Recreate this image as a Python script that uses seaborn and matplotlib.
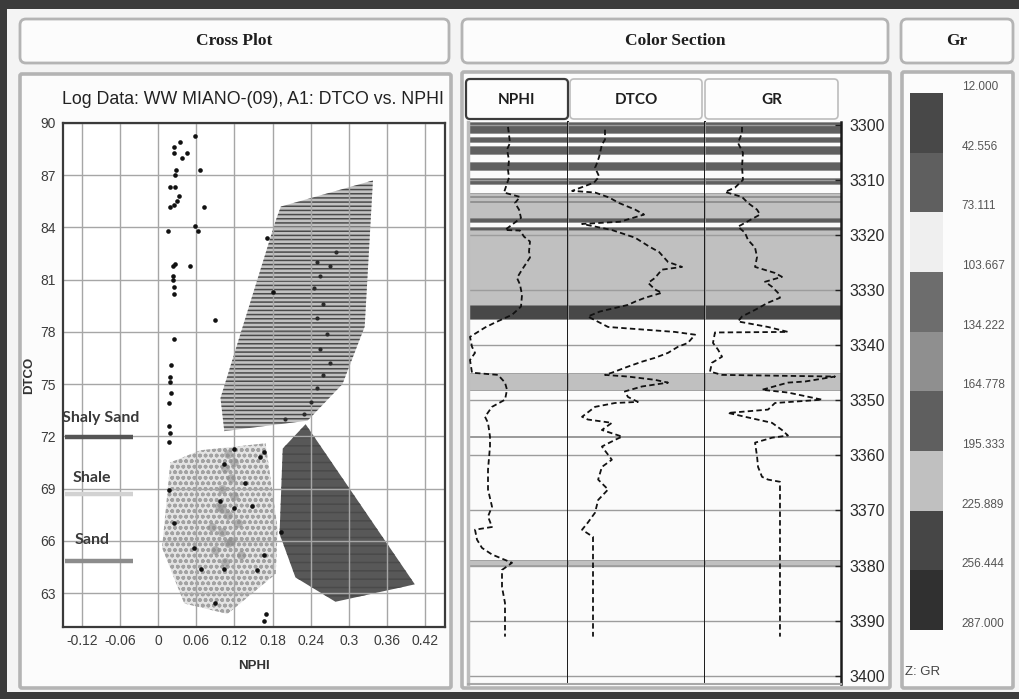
import numpy as np
import matplotlib
matplotlib.use("Agg")
import matplotlib.pyplot as plt
import matplotlib.font_manager as fm
from matplotlib.patches import FancyBboxPatch, Rectangle, Polygon
import seaborn as sns

# ---------------- cross plot data (NPHI vs DTCO) ----------------
pt_nphi = [0.035, 0.058, 0.025, 0.025, 0.038, 0.046, 0.028, 0.065, 0.019, 0.026,
           0.033, 0.019, 0.025, 0.072, 0.016, 0.058, 0.062, 0.023, 0.027, 0.050,
           0.023, 0.023, 0.025, 0.090, 0.025, 0.020, 0.018, 0.019, 0.017, 0.172,
           0.180, 0.017, 0.017, 0.120, 0.167, 0.017, 0.025, 0.057, 0.104, 0.068,
           0.167, 0.156, 0.090, 0.167, 0.169, 0.120, 0.148, 0.137, 0.104, 0.193,
           0.097, 0.160, 0.020, 0.018, 0.024, 0.026, 0.030]
pt_dtco = [88.9, 89.25, 88.6, 88.3, 88.0, 88.3, 87.3, 87.3, 86.3, 86.3,
           85.8, 85.2, 85.3, 85.2, 83.8, 84.1, 83.8, 81.8, 81.9, 81.8,
           81.2, 81.0, 80.2, 78.7, 77.6, 76.1, 75.4, 75.1, 73.9, 83.4,
           80.3, 72.6, 71.7, 71.3, 71.1, 68.9, 67.0, 65.6, 64.4, 64.4,
           65.2, 64.3, 62.4, 61.4, 61.8, 67.9, 68.0, 69.3, 70.4, 66.5,
           68.3, 70.8, 74.5, 72.2, 80.6, 87.0, 85.5]

# denser cloud inside the shale zone
cloud_nphi = [0.110, 0.105, 0.115, 0.100, 0.120, 0.095, 0.110, 0.125, 0.100, 0.115,
              0.090, 0.130, 0.105, 0.085, 0.120, 0.100, 0.110]
cloud_dtco = [71.0, 70.2, 69.6, 69.0, 68.6, 68.0, 67.5, 67.0, 66.5, 66.0,
              65.5, 65.2, 64.8, 66.8, 70.5, 67.8, 65.9]

# trend of points running through the sand zone
trend_nphi = [0.250, 0.255, 0.245, 0.260, 0.250, 0.265, 0.255, 0.270, 0.260, 0.250,
              0.240, 0.230, 0.200, 0.270, 0.280]
trend_dtco = [82.0, 81.2, 80.5, 79.6, 78.8, 77.9, 77.0, 76.2, 75.5, 74.8,
              74.0, 73.3, 73.0, 81.8, 82.6]

# lithology zones (polygon vertices)
sand_nphi = [0.338, 0.325, 0.290, 0.235, 0.104, 0.098, 0.185, 0.193]
sand_dtco = [86.7, 78.3, 75.0, 72.9, 72.3, 74.2, 84.4, 85.2]
shale_nphi = [0.019, 0.066, 0.169, 0.188, 0.185, 0.109, 0.041, 0.006]
shale_dtco = [70.5, 71.2, 71.6, 66.7, 64.1, 61.8, 62.4, 65.6]
shsand_nphi = [0.232, 0.404, 0.279, 0.216, 0.191, 0.196]
shsand_dtco = [72.7, 63.5, 62.5, 63.9, 66.4, 71.3]

xp_xticks = [-0.12, -0.06, 0, 0.06, 0.12, 0.18, 0.24, 0.30, 0.36, 0.42]
xp_xlabels = ["-0.12", "-0.06", "0", "0.06", "0.12", "0.18", "0.24", "0.3", "0.36", "0.42"]
xp_yticks = [63, 66, 69, 72, 75, 78, 81, 84, 87, 90]

# ---------------- well logs (depth in m) ----------------
nphi_depth = [3300.4, 3301.8, 3303.3, 3304.5, 3306.4, 3308.2, 3309.6, 3312.3, 3313.1, 3314.2,
              3315.4, 3316.9, 3319.1, 3319.2, 3320.3, 3321.2, 3323.0, 3324.1, 3326.3, 3327.8,
              3329.0, 3330.9, 3333.0, 3334.5, 3335.9, 3336.8, 3338.5, 3340.3, 3341.4, 3342.7,
              3345.0, 3345.4, 3346.8, 3348.1, 3349.9, 3351.2, 3353.0, 3354.1, 3356.6, 3358.4,
              3362.6, 3366.2, 3369.3, 3371.1, 3373.0, 3373.5, 3375.3, 3376.8, 3378.0, 3379.5,
              3380.8, 3383.9, 3386.8, 3390.4, 3392.9]
nphi_log = [0.090, 0.096, 0.102, 0.084, 0.096, 0.090, 0.096, 0.066, 0.162, 0.132,
            0.156, 0.168, 0.072, 0.162, 0.186, 0.222, 0.216, 0.222, 0.174, 0.144,
            0.162, 0.174, 0.168, 0.114, 0.012, -0.048, -0.138, -0.126, -0.108, -0.138,
            -0.126, 0.030, 0.072, 0.084, 0.072, -0.006, -0.048, -0.030, -0.018, -0.018,
            -0.030, -0.030, -0.006, -0.030, -0.006, -0.108, -0.096, -0.066, -0.006, 0.114,
            0.054, 0.054, 0.072, 0.072, 0.072]

dtco_depth = [3300.9, 3302.7, 3303.6, 3305.8, 3306.9, 3307.8, 3309.4, 3310.5, 3312.0, 3312.3,
              3313.2, 3314.2, 3315.4, 3316.3, 3317.6, 3318.0, 3319.1, 3320.5, 3322.1, 3323.1,
              3324.9, 3325.8, 3326.3, 3327.8, 3328.7, 3329.9, 3330.5, 3331.4, 3332.1, 3332.7,
              3333.9, 3334.8, 3336.7, 3337.6, 3338.1, 3339.6, 3340.3, 3341.4, 3342.3, 3343.0,
              3343.9, 3345.0, 3345.4, 3345.7, 3346.3, 3346.8, 3347.5, 3348.4, 3349.4, 3350.3,
              3350.5, 3351.2, 3353.0, 3353.5, 3354.1, 3355.4, 3356.6, 3357.2, 3358.4, 3360.8,
              3362.1, 3364.4, 3366.2, 3368.1, 3370.4, 3372.2, 3373.5, 3374.8, 3392.9]
dtco_log = [65.8, 65.8, 64.9, 64.1, 63.5, 62.9, 64.1, 62.6, 56.2, 62.9,
            67.0, 69.9, 74.6, 77.2, 70.2, 59.1, 67.8, 74.6, 78.7, 81.6,
            84.2, 88.3, 82.4, 80.4, 78.4, 80.4, 82.4, 77.5, 74.6, 72.5,
            64.3, 60.8, 66.7, 86.2, 92.1, 90.0, 87.1, 84.2, 80.4, 76.6,
            72.5, 67.8, 65.8, 72.5, 80.4, 84.2, 76.6, 71.6, 72.5, 75.4,
            68.7, 62.9, 59.1, 60.8, 67.8, 64.9, 70.8, 68.7, 64.9, 67.8,
            64.9, 63.8, 66.7, 63.8, 62.9, 60.8, 59.1, 62.3, 62.3]

gr_depth = [3300.4, 3301.5, 3303.3, 3305.1, 3307.6, 3310.0, 3311.4, 3312.2, 3313.1, 3314.2,
            3315.4, 3316.3, 3318.5, 3319.6, 3320.9, 3322.3, 3324.0, 3325.8, 3326.9, 3327.6,
            3328.5, 3329.4, 3330.5, 3331.4, 3332.3, 3333.6, 3334.8, 3335.7, 3336.7, 3337.6,
            3337.7, 3339.6, 3340.8, 3342.1, 3343.2, 3344.8, 3345.4, 3345.7, 3346.6, 3346.8,
            3348.1, 3348.6, 3349.9, 3350.5, 3351.7, 3352.3, 3353.0, 3354.1, 3355.4, 3356.4,
            3356.8, 3357.7, 3360.2, 3362.1, 3363.9, 3364.4, 3364.8, 3392.9]
gr_log = [40.8, 40.8, 36.4, 41.9, 40.8, 41.9, 33.1, 22.1, 40.8, 47.4,
          57.4, 60.7, 36.4, 44.1, 47.4, 55.2, 57.4, 55.2, 77.2, 84.9,
          66.2, 73.9, 80.5, 82.7, 69.5, 55.2, 40.8, 36.4, 69.5, 91.5,
          11.0, 8.8, 14.3, 18.8, 7.7, 5.5, 18.8, 143.4, 110.3, 91.5,
          62.9, 91.5, 129.1, 77.2, 69.5, 25.4, 44.1, 73.9, 84.9, 91.5,
          73.9, 55.2, 57.4, 58.5, 62.9, 69.5, 82.7, 82.7]

# GR classes used for the colour section
gr_bounds = [12.000, 42.556, 73.111, 103.667, 134.222, 164.778, 195.333, 225.889, 256.444, 287.000]
gr_colors = ["#484848", "#5f5f5f", "#efefef", "#6d6d6d", "#8f8f8f",
             "#5f5f5f", "#c0c0c0", "#464646", "#303030"]

band_top = [3299.5, 3302.2, 3303.8, 3306.7, 3309.6, 3312.3, 3313.0, 3313.9, 3316.9, 3318.5,
            3319.1, 3332.7, 3345.0, 3356.5, 3379.0]
band_base = [3301.5, 3303.1, 3305.3, 3308.2, 3310.7, 3316.9, 3313.2, 3314.1, 3317.6, 3319.1,
             3332.7, 3335.2, 3348.1, 3356.7, 3379.9]
band_class = [1, 1, 1, 1, 1, 6, 4, 4, 1, 1, 6, 0, 6, 4, 6]

depth_ticks = [3300, 3310, 3320, 3330, 3340, 3350, 3360, 3370, 3380, 3390, 3400]

# ---------------- style ----------------
sns.set_theme(style="white")
available = {f.name for f in fm.fontManager.ttflist}
NARROW = "Liberation Sans Narrow" if "Liberation Sans Narrow" in available else "Liberation Sans"
plt.rcParams["font.family"] = [NARROW, "DejaVu Sans"]
plt.rcParams["hatch.linewidth"] = 1.1

W, H = 1019, 699
fig = plt.figure(figsize=(W / 100, H / 100), dpi=100, facecolor="#f4f4f4")


def frac(x0, y0, x1, y1):
    return [x0 / W, 1 - y1 / H, (x1 - x0) / W, (y1 - y0) / H]


# background layer with the window frame and panels
bg = fig.add_axes([0, 0, 1, 1])
bg.set_xlim(0, W)
bg.set_ylim(H, 0)
bg.axis("off")
for r in [(0, 0, W, 9), (0, 0, 7, H), (0, 692, W, 7)]:
    bg.add_patch(Rectangle((r[0], r[1]), r[2], r[3], color="#3b3b3b", lw=0))


def box(x0, y0, x1, y1, rs=6, lw=2.0, ec="#b4b4b4", fc="#fcfcfc"):
    bg.add_patch(FancyBboxPatch((x0, y0), x1 - x0, y1 - y0,
                                boxstyle=f"round,pad=0,rounding_size={rs}",
                                lw=lw, ec=ec, fc=fc))


# headers
for (x0, x1, title) in [(20, 449, "Cross Plot"), (462, 888, "Color Section"), (901, 1013, "Gr")]:
    box(x0, 19, x1, 63)
    bg.text((x0 + x1) / 2, 41, title, ha="center", va="center", family="Liberation Serif",
            weight="bold", size=12.5, color="#1e1e1e")
# panels
box(20, 74, 451, 688, rs=2, lw=2.6)
box(462, 72, 890, 688, rs=2, lw=2.6)
box(902, 72, 1013, 688, rs=2, lw=2.6)

# ---------------- cross plot ----------------
ax = fig.add_axes(frac(63, 123, 445, 627))
ax.set_facecolor("white")
ax.add_patch(Polygon(np.column_stack([sand_nphi, sand_dtco]), closed=True,
                     facecolor="#c2c2c2", edgecolor="#4a4a4a", hatch="----", lw=0, zorder=1))
ax.add_patch(Polygon(np.column_stack([shale_nphi, shale_dtco]), closed=True,
                     facecolor="#e4e4e4", edgecolor="#a2a2a2", hatch="ooo", lw=0, zorder=1))
ax.add_patch(Polygon(np.column_stack([shsand_nphi, shsand_dtco]), closed=True,
                     facecolor="#585858", edgecolor="#4a4a4a", hatch="--", lw=0, zorder=1))
sns.scatterplot(x=cloud_nphi, y=cloud_dtco, ax=ax, color="#8a8a8a", s=40, alpha=0.55,
                linewidth=0, zorder=2)
sns.scatterplot(x=trend_nphi, y=trend_dtco, ax=ax, color="#2a2a2a", s=9,
                linewidth=0, zorder=3)
sns.scatterplot(x=pt_nphi, y=pt_dtco, ax=ax, color="#111111", s=11,
                linewidth=0, zorder=4)
ax.set_xlim(-0.150, 0.4515)
ax.set_ylim(61.05, 90)
ax.set_xticks(xp_xticks)
ax.set_xticklabels(xp_xlabels)
ax.set_yticks(xp_yticks)
ax.set_axisbelow("line")
ax.grid(True, color="#a6a6a6", lw=1.0)
ax.tick_params(labelsize=10, colors="#3c3c3c", length=0, pad=5)
for s in ax.spines.values():
    s.set_color("#3a3a3a")
    s.set_linewidth(1.6)
ax.set_xlabel("NPHI", fontsize=9.5, weight="bold", color="#333", labelpad=9)
ax.set_ylabel("DTCO", fontsize=9.5, weight="bold", color="#333", labelpad=4)
bg.text(253, 100, "Log Data: WW MIANO-(09), A1: DTCO vs. NPHI", ha="center", va="center",
        size=12.8, color="#222")

# zone legend
leg = [("Shaly Sand", -0.003, 0.415, 0.377, "#555555"),
       ("Shale", 0.024, 0.296, 0.264, "#d2d2d2"),
       ("Sand", 0.031, 0.173, 0.131, "#8c8c8c")]
for name, tx, ty, ly, col in leg:
    ax.text(tx, ty, name, transform=ax.transAxes, family="Lato", weight="bold",
            size=11.5, color="#3a3a3a", va="center", ha="left", zorder=6)
    ax.plot([0.005, 0.183], [ly, ly], transform=ax.transAxes, lw=3.2, color=col,
            solid_capstyle="butt", zorder=6)

# ---------------- colour section ----------------
for (x0, x1, name, ec, lw) in [(466, 568, "NPHI", "#3c3c3c", 1.6),
                               (570, 702, "DTCO", "#bdbdbd", 1.2),
                               (705, 838, "GR", "#bdbdbd", 1.2)]:
    box(x0, 79, x1, 119, rs=4, lw=lw, ec=ec, fc="#fdfdfd")
    bg.text((x0 + x1) / 2, 100, name, ha="center", va="center", family="Lato",
            weight="bold", size=11, color="#1e1e1e")

tracks = [
    (frac(468, 122, 568, 684), (-0.15, 0.45), nphi_log, nphi_depth),
    (frac(568, 122, 705, 684), (55, 95), dtco_log, dtco_depth),
    (frac(705, 122, 841, 684), (0, 150), gr_log, gr_depth),
]
band_colors = [gr_colors[c] for c in band_class]
band_h = [b - t for t, b in zip(band_top, band_base)]
for i, (rect, xl, vals, dep) in enumerate(tracks):
    t = fig.add_axes(rect)
    t.set_facecolor("#fbfbfb")
    t.barh(band_top, width=xl[1] - xl[0], left=xl[0], height=band_h, align="edge",
           color=band_colors, edgecolor="#8a8a8a", linewidth=0.5, zorder=0.5)
    sns.lineplot(x=vals, y=dep, ax=t, sort=False, estimator=None, orient="y",
                 color="#121212", lw=1.3, linestyle=(0, (3, 1.8)), zorder=3)
    t.set_xlim(*xl)
    t.set_ylim(3401.5, 3299.5)
    t.set_yticks(depth_ticks)
    t.set_xticks([])
    t.set_xlabel("")
    t.set_ylabel("")
    t.set_axisbelow("line")
    t.grid(axis="y", color="#9c9c9c", lw=1.0)
    t.grid(axis="x", visible=False)
    t.spines["top"].set_visible(False)
    t.spines["bottom"].set_color("#a8a8a8")
    t.spines["bottom"].set_linewidth(1.5)
    t.spines["left"].set_visible(i == 0)
    t.spines["left"].set_color("#bdbdbd")
    t.spines["left"].set_linewidth(2.5)
    t.spines["right"].set_color("#1a1a1a")
    t.spines["right"].set_linewidth(1.4 if i < 2 else 1.8)
    if i < 2:
        t.tick_params(axis="y", left=False, right=False, labelleft=False)
    else:
        t.yaxis.tick_right()
        t.tick_params(axis="y", direction="in", length=4, width=1, color="#222",
                      labelsize=11.5, labelcolor="#2a2a2a", pad=6)

# ---------------- GR colour scale ----------------
cax = fig.add_axes(frac(910, 93, 943, 630))
cax.bar([0] * len(gr_colors), height=np.diff(gr_bounds), bottom=gr_bounds[:-1], width=1,
        align="edge", color=gr_colors, linewidth=0)
cax.set_xlim(0, 1)
cax.set_ylim(287, 12)
cax.set_yticks(gr_bounds)
cax.set_yticklabels([f"{b:.3f}" for b in gr_bounds])
cax.yaxis.tick_right()
cax.set_xticks([])
cax.tick_params(axis="y", length=0, pad=13.5, labelsize=8.5, labelcolor="#555")
for lbl in cax.get_yticklabels():
    lbl.set_va("bottom")
for s in cax.spines.values():
    s.set_visible(False)
bg.text(905, 672, "Z: GR", size=9.5, color="#444", va="center", ha="left")

fig.savefig("out.png", dpi=100, facecolor=fig.get_facecolor())
